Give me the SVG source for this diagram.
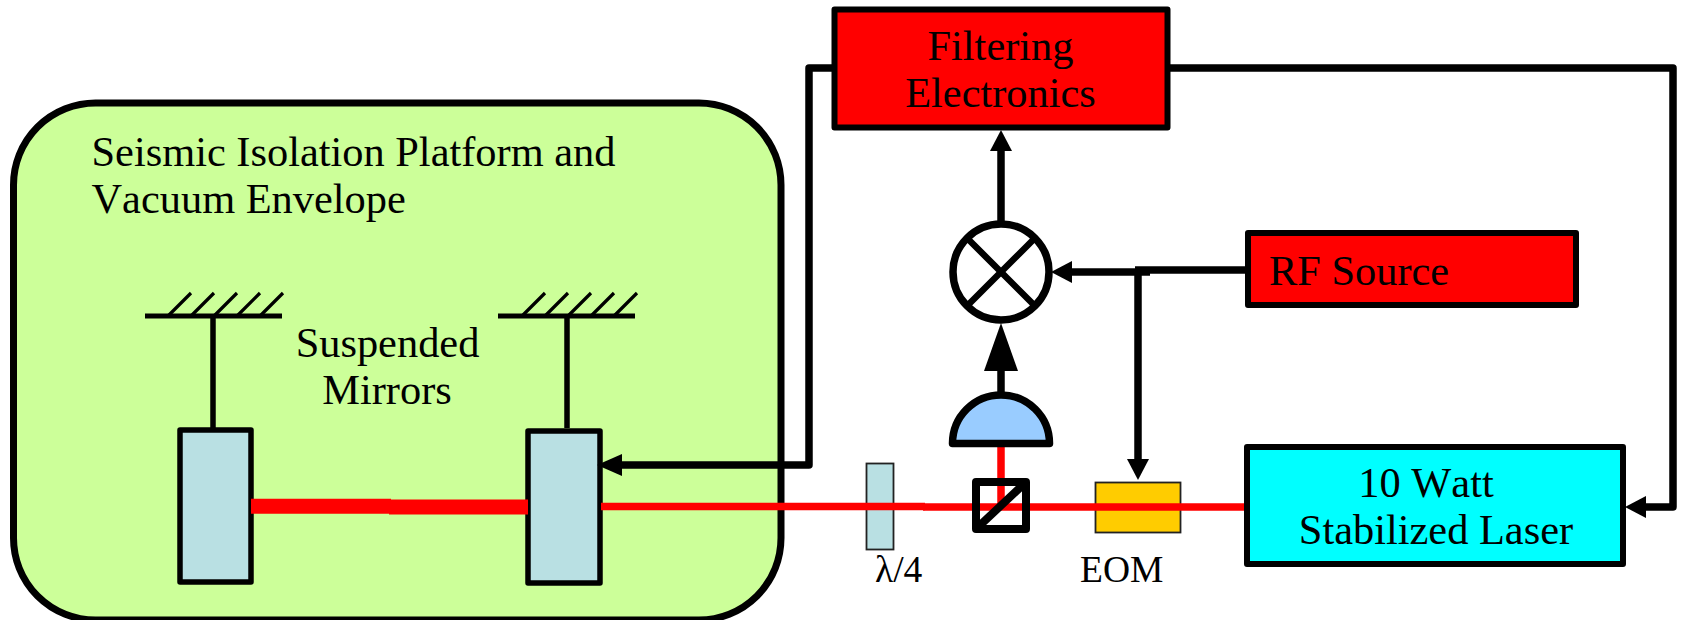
<svg xmlns="http://www.w3.org/2000/svg" width="1681" height="620" viewBox="0 0 1681 620">
<style>
text{font-family:"Liberation Serif","Times New Roman",serif;font-size:42.4px;font-kerning:none;fill:#000}
.small{font-size:37.5px}
.mid{text-anchor:middle}
.box{stroke:#000;stroke-width:6;stroke-linejoin:round}
.thin{stroke:#222;stroke-width:1.8}
.wire{fill:none;stroke:#000;stroke-width:7.5;stroke-linejoin:round}
.beam{fill:none;stroke:#f00;stroke-width:7.5}
.hatch{fill:none;stroke:#000;stroke-width:3.2}
.bar{fill:none;stroke:#000;stroke-width:5}
.stem{fill:none;stroke:#000;stroke-width:5.5}
.mirror{fill:#b9e0e3;stroke:#000;stroke-width:5.5;stroke-linejoin:round}
</style>
<defs>
<marker id="head" markerUnits="userSpaceOnUse" markerWidth="22" markerHeight="24" refX="0" refY="12" orient="auto"><path d="M0 1 L21 12 L0 23 Z" fill="#000"/></marker>
<marker id="longhead" markerUnits="userSpaceOnUse" markerWidth="26" markerHeight="24" refX="0" refY="12" orient="auto"><path d="M0 1 L25 12 L0 23 Z" fill="#000"/></marker>
<marker id="bighead" markerUnits="userSpaceOnUse" markerWidth="49" markerHeight="36" refX="0" refY="18" orient="auto"><path d="M0 1 L48 18 L0 35 Z" fill="#000"/></marker>
</defs>
<g id="platform">
<rect x="13.5" y="103" width="767.5" height="517" rx="82" ry="82" fill="#ccff99" stroke="#000" stroke-width="7"/>
<text x="91.5" y="166">Seismic Isolation Platform and</text>
<text x="91.5" y="213">Vacuum Envelope</text>
</g>
<g id="suspended-label">
<text class="mid" x="387.5" y="357">Suspended</text>
<text class="mid" x="387" y="404">Mirrors</text>
</g>
<g id="mount-left">
<path class="hatch" d="M168 316L191 293M191 316L214 293M214 316L237 293M237 316L260 293M260 316L283 293"/>
<path class="bar" d="M145 316H282"/>
<path class="stem" d="M213 316V428"/>
</g>
<g id="mount-right">
<path class="hatch" d="M522 316L545 293M545 316L568 293M568 316L591 293M591 316L614 293M614 316L637 293"/>
<path class="bar" d="M498 316H635"/>
<path class="stem" d="M567 316V428"/>
</g>
<g id="mirror-1"><rect class="mirror" x="180" y="430" width="71" height="152"/></g>
<g id="mirror-2"><rect class="mirror" x="528" y="431" width="72" height="152"/></g>
<g id="connectors">
<path class="beam" d="M251 506.3H391" style="stroke-width:15"/>
<path class="beam" d="M389 507H528" style="stroke-width:15"/>
<path class="wire" d="M1246 270H1135"/>
<path class="wire" d="M1150 272H1072" marker-end="url(#head)"/>
<path class="wire" d="M1138 272V459" marker-end="url(#head)"/>
<path class="wire" d="M1001 225V151" marker-end="url(#head)"/>
<path class="wire" d="M1001 396V371" marker-end="url(#bighead)"/>
<path class="wire" d="M834 68H809V465H622" marker-end="url(#longhead)"/>
<path class="wire" d="M1168 68H1673V507H1646" marker-end="url(#head)"/>
</g>
<g id="waveplate">
<rect class="thin" x="866.5" y="463.5" width="27" height="86" fill="#b9e0e3"/>
<text class="small" x="875" y="582">λ/4</text>
</g>
<g id="eom">
<rect class="thin" x="1095.5" y="482.5" width="85" height="50" fill="#ffcc00"/>
<text class="small" x="1080" y="582">EOM</text>
</g>
<g id="laser-beam">
<path class="beam" d="M601 506.5H925"/>
<path class="beam" d="M923 507H1246"/>
<path class="beam" d="M1001 447V507"/>
</g>
<g id="beamsplitter">
<rect x="976" y="482" width="50" height="47" fill="none" stroke="#000" stroke-width="8" stroke-linejoin="round"/>
<path d="M976 529L1026 482" fill="none" stroke="#000" stroke-width="8"/>
</g>
<g id="photodetector">
<path d="M952.5 443.5A48.5 48.5 0 0 1 1049.5 443.5Z" fill="#99ccff" stroke="#000" stroke-width="7.5" stroke-linejoin="round"/>
</g>
<g id="mixer">
<circle cx="1001" cy="272" r="48" fill="#fff" stroke="#000" stroke-width="7.5"/>
<path d="M967 238L1035 306M1035 238L967 306" fill="none" stroke="#000" stroke-width="6.5"/>
</g>
<g id="filtering">
<rect class="box" x="834.5" y="9.5" width="333" height="118" fill="#f00"/>
<text class="mid" x="1000.5" y="60">Filtering</text>
<text class="mid" x="1000.5" y="107">Electronics</text>
</g>
<g id="rf-source">
<rect class="box" x="1248" y="233" width="328" height="72" fill="#f00"/>
<text x="1269" y="285">RF Source</text>
</g>
<g id="laser">
<rect class="box" x="1247" y="447" width="376" height="117" fill="#0ff"/>
<text class="mid" x="1426" y="497">10 Watt</text>
<text class="mid" x="1436" y="544">Stabilized Laser</text>
</g>
</svg>
